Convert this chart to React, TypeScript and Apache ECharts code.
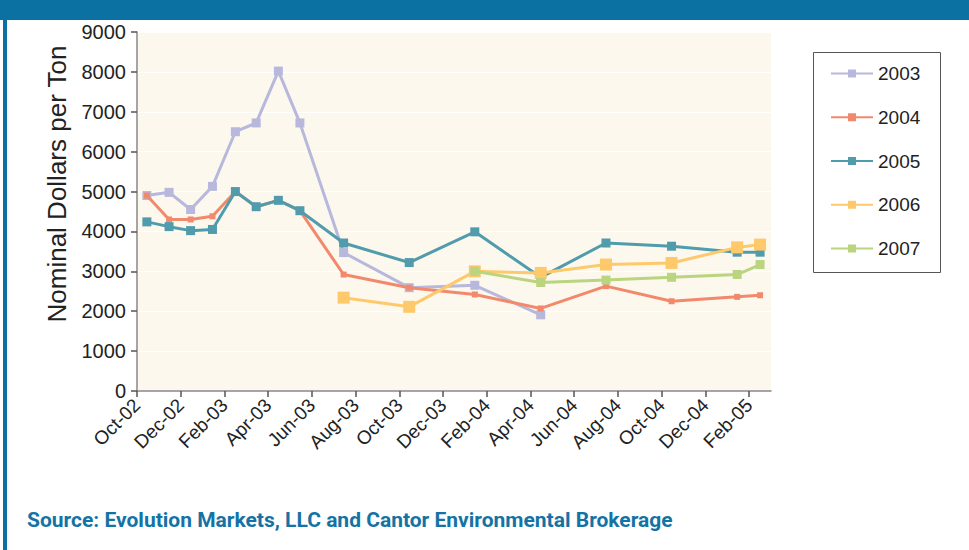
import React, { useEffect, useRef } from "react";
import * as echarts from "echarts";

const xTickLabels = [
  "Oct-02", "Dec-02", "Feb-03", "Apr-03", "Jun-03", "Aug-03", "Oct-03", "Dec-03",
  "Feb-04", "Apr-04", "Jun-04", "Aug-04", "Oct-04", "Dec-04", "Feb-05",
];
const yTicks = [0, 1000, 2000, 3000, 4000, 5000, 6000, 7000, 8000, 9000];

const dates = [
  "2002-10-15", "2002-11-15", "2002-12-15", "2003-01-15", "2003-02-15", "2003-03-15",
  "2003-04-15", "2003-05-15", "2003-07-15", "2003-10-15", "2004-01-15", "2004-04-15",
  "2004-07-15", "2004-10-15", "2005-01-15", "2005-02-15",
];

const years = ["2003", "2004", "2005", "2006", "2007"];
const v2003 = [4900, 4980, 4550, 5130, 6500, 6720, 8020, 6720, 3470, 2590, 2650, 1910, null, null, null, null];
const v2004 = [4900, 4300, 4300, 4380, 5000, 4620, 4780, 4520, 2920, 2590, 2420, 2070, 2630, 2250, 2360, 2400];
const v2005 = [4240, 4120, 4020, 4050, 5000, 4620, 4780, 4520, 3710, 3220, 3990, 2850, 3710, 3630, 3480, 3480];
const v2006 = [null, null, null, null, null, null, null, null, 2340, 2110, 3000, 2960, 3170, 3210, 3600, 3670];
const v2007 = [null, null, null, null, null, null, null, null, null, null, 3000, 2720, 2780, 2850, 2920, 3170];
const allValues = [v2003, v2004, v2005, v2006, v2007];

const seriesColors = ["#b8b8dc", "#f2896c", "#509bac", "#fec96b", "#bad47f"];
const markerSizes = [9, 6, 9, 12, 9];

function monthOffset(d: string): number {
  const [y, m, day] = d.split("-").map(Number);
  const dim = new Date(y, m, 0).getDate();
  return (y - 2002) * 12 + (m - 10) + (day - 1) / dim;
}

export default function App() {
  const ref = useRef<HTMLDivElement>(null);
  useEffect(() => {
    const chart = echarts.init(ref.current!, null, { renderer: "svg" });
    const xs = dates.map(monthOffset);
    const series = years.map((yr, i) => ({
      name: yr,
      type: "line",
      data: allValues[i]
        .map((v, j) => (v == null ? null : [xs[j], v]))
        .filter((p) => p !== null),
      symbol: "rect",
      symbolSize: markerSizes[i],
      lineStyle: { width: 3, color: seriesColors[i] },
      itemStyle: { color: seriesColors[i] },
      color: seriesColors[i],
      z: 2 + i,
    }));
    const tickVals = xTickLabels.map((_, i) => i * 2);
    const option = {
      animation: false,
      backgroundColor: "#ffffff",
      textStyle: { fontFamily: "'Liberation Sans', sans-serif" },
      grid: {
        left: 137,
        top: 32,
        right: 198,
        bottom: 159,
        show: true,
        backgroundColor: "#fcf8ee",
        borderWidth: 0,
      },
      xAxis: {
        type: "value",
        min: 0,
        max: 29,
        interval: 2,
        axisLine: { show: true, lineStyle: { color: "#888888", width: 1.5 } },
        axisTick: {
          show: true,
          length: 6,
          inside: false,
          lineStyle: { color: "#555555", width: 1.5 },
          customValues: tickVals,
        },
        axisLabel: {
          rotate: 45,
          margin: 11,
          fontSize: 19,
          color: "#222222",
          padding: [8, 0, 0, 0],
          fontFamily: "'Liberation Sans', sans-serif",
          customValues: tickVals,
          formatter: (v: number) => xTickLabels[Math.round(v / 2)] ?? "",
        },
        splitLine: { show: false },
      },
      yAxis: {
        type: "value",
        min: 0,
        max: 9000,
        interval: 1000,
        axisLine: { show: true, lineStyle: { color: "#888888", width: 1.5 } },
        axisTick: { show: true, length: 6, lineStyle: { color: "#555555", width: 1.5 } },
        axisLabel: {
          fontSize: 20,
          margin: 11,
          color: "#222222",
          fontFamily: "'Liberation Sans', sans-serif",
          formatter: (v: number) => String(v),
        },
        splitLine: { show: true, lineStyle: { color: "#ffffff", width: 1 } },
      },
      legend: {
        orient: "vertical",
        left: 830,
        top: 64,
        padding: 0,
        itemWidth: 42,
        itemHeight: 10,
        itemGap: 24.75,
        textStyle: {
          fontSize: 19,
          lineHeight: 19,
          color: "#222222",
          fontFamily: "'Liberation Sans', sans-serif",
        },
        data: years,
      },
      graphic: [
        { type: "rect", shape: { x: 0, y: 0, width: 969, height: 20 }, style: { fill: "#0b71a2" } },
        { type: "rect", shape: { x: 3, y: 0, width: 4, height: 550 }, style: { fill: "#0b71a2" } },
        {
          type: "rect",
          shape: { x: 813.5, y: 52.5, width: 127, height: 220 },
          style: { fill: "none", stroke: "#555555", lineWidth: 1 },
        },
        {
          type: "text",
          x: 57,
          y: 184,
          rotation: Math.PI / 2,
          style: {
            text: "Nominal Dollars per Ton",
            font: "26px 'Liberation Sans', sans-serif",
            fill: "#222222",
            textAlign: "center",
            textVerticalAlign: "middle",
          },
        },
        {
          type: "text",
          x: 27,
          y: 520,
          style: {
            text: "Source: Evolution Markets, LLC and Cantor Environmental Brokerage",
            font: "bold 21px Roboto, sans-serif",
            fill: "#1373a5",
            textAlign: "left",
            textVerticalAlign: "middle",
          },
        },
      ],
      series,
    };
    chart.setOption(option as any);
    return () => chart.dispose();
  }, []);
  return (
    <div
      ref={ref}
      style={{ position: "absolute", left: 0, top: 0, width: 969, height: 550 }}
    />
  );
}
